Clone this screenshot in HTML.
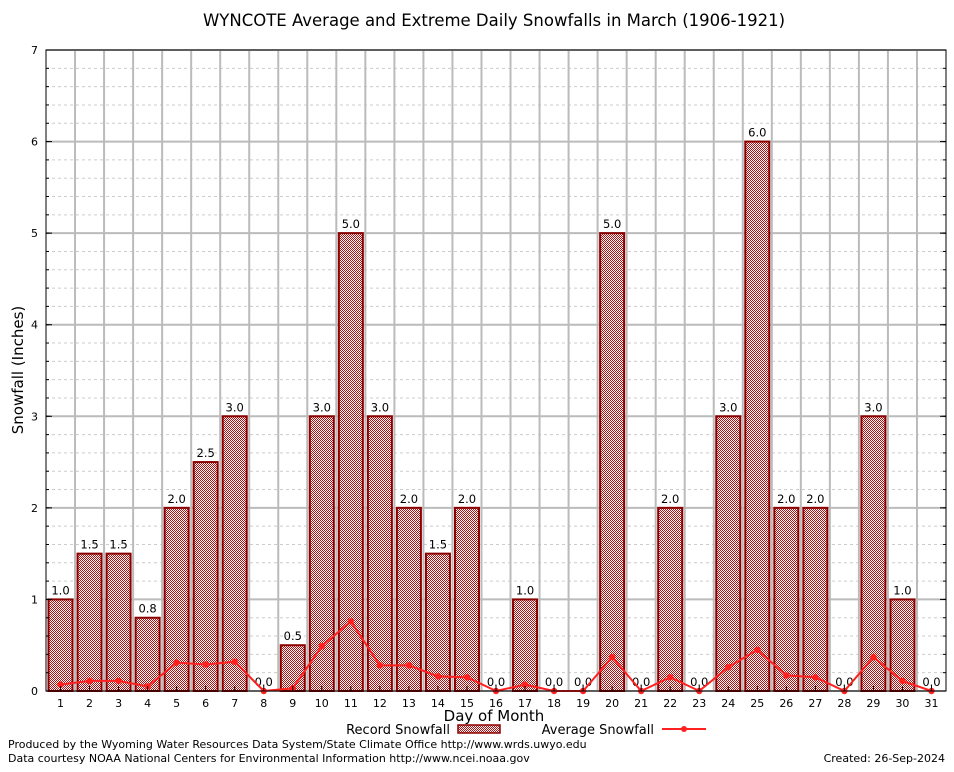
<!DOCTYPE html>
<html><head><meta charset="utf-8"><style>
body{margin:0;background:#fff;font-family:"DejaVu Sans","Liberation Sans",sans-serif}
svg text{font-family:"DejaVu Sans","Liberation Sans",sans-serif}
</style></head><body>
<svg id="c" width="954" height="768" viewBox="0 0 954 768" xmlns="http://www.w3.org/2000/svg">
<defs>
<pattern id="chk" width="2" height="2" patternUnits="userSpaceOnUse">
<rect width="2" height="2" fill="#fff"/>
<rect width="1" height="1" fill="#b01010"/>
<rect x="1" y="1" width="1" height="1" fill="#b01010"/>
</pattern>
</defs>
<rect width="954" height="768" fill="#fff"/>
<text x="494" y="26" font-size="16.5" text-anchor="middle" fill="#000">WYNCOTE Average and Extreme Daily Snowfalls in March (1906-1921)</text>
<g id="grid"></g>
<g id="bars"></g>
<g id="line"></g>
<g id="axes"></g>
<text transform="translate(23,370) rotate(-90)" font-size="15" text-anchor="middle">Snowfall (Inches)</text>
<text x="494" y="721" font-size="15" text-anchor="middle">Day of Month</text>
<g>
<text x="450" y="734" font-size="13" text-anchor="end">Record Snowfall</text>
<rect x="458" y="725" width="42" height="8" fill="url(#chk)" stroke="#8b0000" stroke-width="1.5"/>
<text x="654" y="734" font-size="13" text-anchor="end">Average Snowfall</text>
<line x1="662" y1="729" x2="706" y2="729" stroke="#ff2020" stroke-width="2"/>
<circle cx="684" cy="729" r="3" fill="#ff2020"/>
</g>
<text x="8" y="748" font-size="11">Produced by the Wyoming Water Resources Data System/State Climate Office http://www.wrds.uwyo.edu</text>
<text x="8" y="762" font-size="11">Data courtesy NOAA National Centers for Environmental Information http://www.ncei.noaa.gov</text>
<text x="945" y="762" font-size="11" text-anchor="end">Created: 26-Sep-2024</text>
</svg>
<script>
const days=[1,2,3,4,5,6,7,8,9,10,11,12,13,14,15,16,17,18,19,20,21,22,23,24,25,26,27,28,29,30,31];
const recordSnow=[1.0,1.5,1.5,0.8,2.0,2.5,3.0,0.0,0.5,3.0,5.0,3.0,2.0,1.5,2.0,0.0,1.0,0.0,0.0,5.0,0.0,2.0,0.0,3.0,6.0,2.0,2.0,0.0,3.0,1.0,0.0];
const avgSnow=[0.07,0.11,0.11,0.05,0.31,0.29,0.32,0.0,0.03,0.49,0.76,0.28,0.28,0.16,0.15,0.0,0.07,0.0,0.0,0.37,0.0,0.15,0.0,0.26,0.45,0.17,0.15,0.0,0.37,0.11,0.0];
const yTicks=[0,1,2,3,4,5,6,7];
const X0=46,X1=946,Y0=691,Y1=50,YMAX=7;
const slot=(X1-X0)/days.length;
const xs=d=>X0+(d-0.5)*slot;
const ys=v=>Y0-(v/YMAX)*(Y0-Y1);
const NS='http://www.w3.org/2000/svg';
function mk(tag,attrs,parent,txt){const e=document.createElementNS(NS,tag);for(const k in attrs)e.setAttribute(k,attrs[k]);if(txt!==undefined)e.textContent=txt;parent.appendChild(e);return e;}
const g=document.getElementById('grid'),b=document.getElementById('bars'),l=document.getElementById('line'),a=document.getElementById('axes');
for(let v=0.2;v<YMAX;v+=0.2){if(Math.abs(v-Math.round(v))<1e-6)continue;const e=mk('line',{x1:X0,x2:X1,y1:ys(v),y2:ys(v),stroke:'#ccc','stroke-width':1,'stroke-dasharray':'3,3'},g);

}
yTicks.forEach(v=>{const e=mk('line',{x1:X0,x2:X1,y1:ys(v),y2:ys(v),stroke:'#bbb','stroke-width':2},g);


const t=mk('text',{x:X0-8,y:ys(v)+4,'font-size':11,'text-anchor':'end','font-family':'Liberation Serif'},a,String(v));


mk('line',{x1:X0,x2:X0+6,y1:ys(v),y2:ys(v),stroke:'#000'},a);
mk('line',{x1:X1,x2:X1-6,y1:ys(v),y2:ys(v),stroke:'#000'},a);});
for(let v=0.2;v<YMAX;v+=0.2){mk('line',{x1:X0,x2:X0+3,y1:ys(v),y2:ys(v),stroke:'#000'},a);mk('line',{x1:X1,x2:X1-3,y1:ys(v),y2:ys(v),stroke:'#000'},a);}
for(let i=1;i<days.length;i++){const x=X0+i*slot;const e=mk('line',{x1:x,x2:x,y1:Y1,y2:Y0,stroke:'#bbb','stroke-width':2},g);

}
days.forEach((d,i)=>{const v=recordSnow[i];const x=xs(d);
if(v>0){const r=mk('rect',{x:x-12,y:ys(v),width:24,height:Y0-ys(v),fill:'url(#chk)',stroke:'#8b0000','stroke-width':2},b);

}
const t=mk('text',{x:x,y:ys(v)-5,'font-size':11.5,'text-anchor':'middle'},b,v.toFixed(1));


const tl=mk('text',{x:x,y:Y0+16,'font-size':11,'text-anchor':'middle','font-family':'Liberation Serif'},a,String(d));


mk('line',{x1:x,x2:x,y1:Y0,y2:Y0-5,stroke:'#000'},a);});
const pts=days.map((d,i)=>xs(d)+','+ys(avgSnow[i])).join(' ');
const pl=mk('polyline',{points:pts,fill:'none',stroke:'#ff2020','stroke-width':2},l);


days.forEach((d,i)=>{const c=mk('circle',{cx:xs(d),cy:ys(avgSnow[i]),r:3.2,fill:'#ff2020'},l);

});
const fr=mk('rect',{x:X0,y:Y1,width:X1-X0,height:Y0-Y1,fill:'none',stroke:'#000','stroke-width':1},a);


</script>
</body></html>
